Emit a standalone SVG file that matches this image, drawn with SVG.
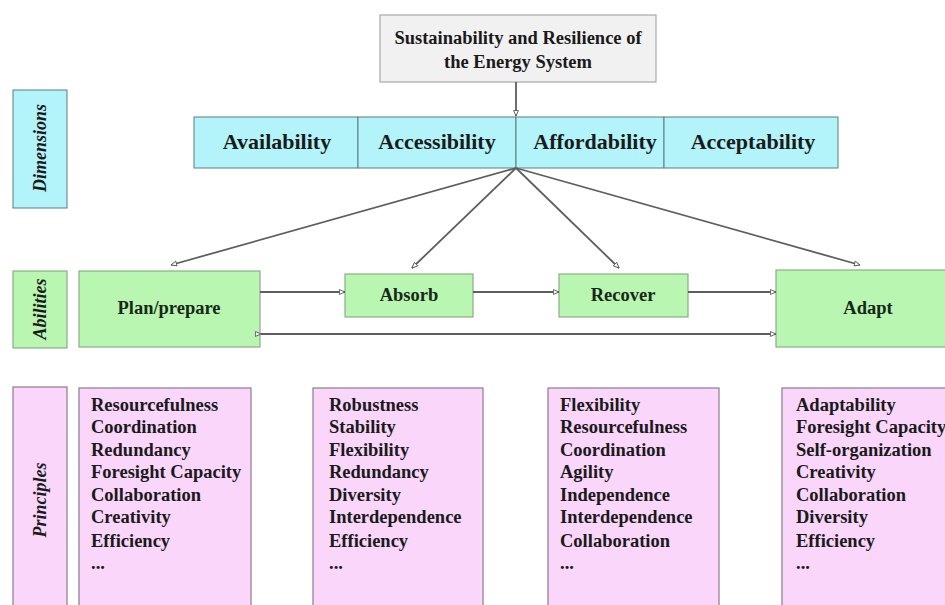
<svg xmlns="http://www.w3.org/2000/svg" width="945" height="605" viewBox="0 0 945 605">
<defs>
<marker id="ah" viewBox="0 0 10 10" refX="9" refY="5" markerWidth="7" markerHeight="7" orient="auto" markerUnits="userSpaceOnUse">
<path d="M1,1.5 L9,5 L1,8.5 Z" fill="#fff" stroke="#555" stroke-width="1.3"/>
</marker>
<marker id="ahs" viewBox="0 0 10 10" refX="1" refY="5" markerWidth="7" markerHeight="7" orient="auto-start-reverse" markerUnits="userSpaceOnUse">
<path d="M9,1.5 L1,5 L9,8.5 Z" fill="#fff" stroke="#555" stroke-width="1.3"/>
</marker>
</defs>
<style>
text{font-family:"Liberation Serif","Times New Roman",serif;font-weight:bold;fill:#1a1a1a}
.top{fill:#f1f1f1;stroke:#a8a8a8;stroke-width:1.2}
.cy{fill:#b2f4f9;stroke:#5a7f82;stroke-width:1}
.gr{fill:#b9f6b1;stroke:#8cae88;stroke-width:1.2}
.pk{fill:#f9d6fa;stroke:#8e7a8e;stroke-width:1.2}
.lab{font-style:italic;font-size:18px;text-anchor:middle}
.dim{font-size:22px;text-anchor:middle}
.ab{font-size:18.5px;text-anchor:middle;fill:#182818}
.pr{font-size:18.5px}
.conn line{stroke:#5e5e5e;stroke-width:1.8;fill:none}
</style>
<rect width="945" height="605" fill="#fff"/>

<g id="top-node">
<rect class="top" x="380" y="15" width="276" height="67"/>
<text x="518" y="44" font-size="18.5" text-anchor="middle">Sustainability and Resilience of</text>
<text x="518" y="68" font-size="18.5" text-anchor="middle">the Energy System</text>
</g>

<g id="label-dimensions">
<rect class="cy" x="13" y="90" width="54" height="118"/>
<text class="lab" transform="translate(46,148) rotate(-90)">Dimensions</text>
</g>
<g id="label-abilities">
<rect class="gr" x="13" y="271" width="54" height="77"/>
<text class="lab" transform="translate(46,309) rotate(-90)">Abilities</text>
</g>
<g id="label-principles">
<rect class="pk" x="13" y="387" width="54" height="225"/>
<text class="lab" transform="translate(46,500) rotate(-90)">Principles</text>
</g>

<g id="dim-availability">
<rect class="cy" x="194" y="117" width="164" height="51"/>
<text class="dim" x="277" y="149">Availability</text>
</g>
<g id="dim-accessibility">
<rect class="cy" x="358" y="117" width="158" height="51"/>
<text class="dim" x="437" y="149">Accessibility</text>
</g>
<g id="dim-affordability">
<rect class="cy" x="516" y="117" width="148" height="51"/>
<text class="dim" x="595" y="149">Affordability</text>
</g>
<g id="dim-acceptability">
<rect class="cy" x="664" y="117" width="174" height="51"/>
<text class="dim" x="753" y="149">Acceptability</text>
</g>

<g id="ab-plan">
<rect class="gr" x="79" y="271" width="181" height="76"/>
<text class="ab" x="169" y="314">Plan/prepare</text>
</g>
<g id="ab-absorb">
<rect class="gr" x="345" y="274" width="128" height="43"/>
<text class="ab" x="409" y="301">Absorb</text>
</g>
<g id="ab-recover">
<rect class="gr" x="559" y="274" width="129" height="43"/>
<text class="ab" x="623" y="301">Recover</text>
</g>
<g id="ab-adapt">
<rect class="gr" x="776" y="270" width="180" height="77"/>
<text class="ab" x="868" y="314">Adapt</text>
</g>

<g id="pr-plan">
<rect class="pk" x="79" y="388" width="172" height="225"/>
<text class="pr" x="91" y="411">Resourcefulness</text>
<text class="pr" x="91" y="433">Coordination</text>
<text class="pr" x="91" y="456">Redundancy</text>
<text class="pr" x="91" y="478">Foresight Capacity</text>
<text class="pr" x="91" y="501">Collaboration</text>
<text class="pr" x="91" y="523">Creativity</text>
<text class="pr" x="91" y="547">Efficiency</text>
<text class="pr" x="91" y="569">...</text>
</g>
<g id="pr-absorb">
<rect class="pk" x="313" y="388" width="170" height="225"/>
<text class="pr" x="329" y="411">Robustness</text>
<text class="pr" x="329" y="433">Stability</text>
<text class="pr" x="329" y="456">Flexibility</text>
<text class="pr" x="329" y="478">Redundancy</text>
<text class="pr" x="329" y="501">Diversity</text>
<text class="pr" x="329" y="523">Interdependence</text>
<text class="pr" x="329" y="547">Efficiency</text>
<text class="pr" x="329" y="569">...</text>
</g>
<g id="pr-recover">
<rect class="pk" x="548" y="388" width="171" height="225"/>
<text class="pr" x="560" y="411">Flexibility</text>
<text class="pr" x="560" y="433">Resourcefulness</text>
<text class="pr" x="560" y="456">Coordination</text>
<text class="pr" x="560" y="478">Agility</text>
<text class="pr" x="560" y="501">Independence</text>
<text class="pr" x="560" y="523">Interdependence</text>
<text class="pr" x="560" y="547">Collaboration</text>
<text class="pr" x="560" y="569">...</text>
</g>
<g id="pr-adapt">
<rect class="pk" x="782" y="388" width="175" height="225"/>
<text class="pr" x="796" y="411">Adaptability</text>
<text class="pr" x="796" y="433">Foresight Capacity</text>
<text class="pr" x="796" y="456">Self-organization</text>
<text class="pr" x="796" y="478">Creativity</text>
<text class="pr" x="796" y="501">Collaboration</text>
<text class="pr" x="796" y="523">Diversity</text>
<text class="pr" x="796" y="547">Efficiency</text>
<text class="pr" x="796" y="569">...</text>
</g>

<g class="conn" id="connectors">
<line x1="516" y1="82" x2="516" y2="116" marker-end="url(#ah)"/>
<line x1="516" y1="168" x2="171" y2="265" marker-end="url(#ah)"/>
<line x1="516" y1="168" x2="412" y2="268" marker-end="url(#ah)"/>
<line x1="516" y1="168" x2="619" y2="268" marker-end="url(#ah)"/>
<line x1="516" y1="168" x2="860" y2="265" marker-end="url(#ah)"/>
<line x1="260" y1="292" x2="345" y2="292" marker-end="url(#ah)"/>
<line x1="473" y1="292" x2="559" y2="292" marker-end="url(#ah)"/>
<line x1="688" y1="292" x2="776" y2="292" marker-end="url(#ah)"/>
<line x1="261" y1="334" x2="776" y2="334" marker-start="url(#ahs)" marker-end="url(#ah)"/>
</g>
</svg>
